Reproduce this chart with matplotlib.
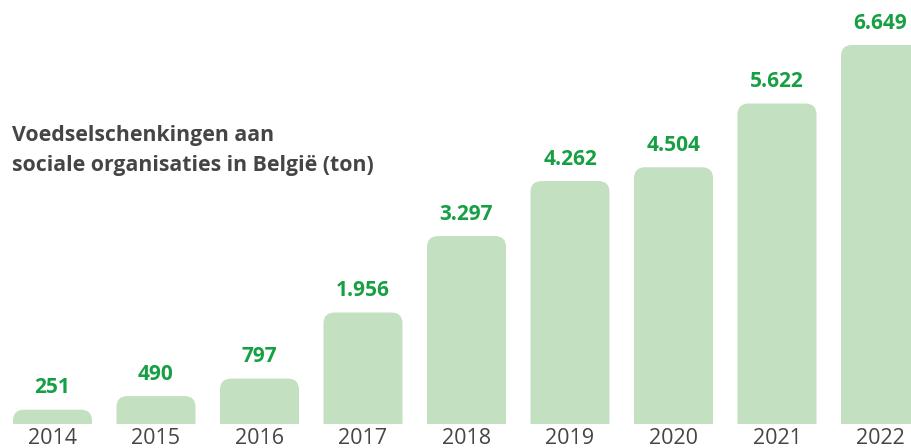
import matplotlib
matplotlib.use("Agg")
import matplotlib.pyplot as plt
from matplotlib.path import Path
from matplotlib.patches import PathPatch

# --- data -------------------------------------------------------------
years = ["2014", "2015", "2016", "2017", "2018", "2019", "2020", "2021", "2022"]
tonnes = [251, 490, 797, 1956, 3297, 4262, 4504, 5622, 6649]
title_lines = ["Voedselschenkingen aan", "sociale organisaties in België (ton)"]

BAR_COLOR = "#c3e0c0"
VALUE_COLOR = "#17a043"
TEXT_COLOR = "#454545"

plt.rcParams['font.family'] = ['Open Sans', 'DejaVu Sans']

W, H = 911, 448
fig = plt.figure(figsize=(W / 100, H / 100), dpi=100)
ax = fig.add_axes([0, 0, 1, 1])
ax.set_axis_off()

# layout in pixels: bar pitch, first center, baseline and tallest bar top
pitch = 103.5
first_center = 52.5
base_px = 24
top_px = H - 45
px_per_unit = (top_px - base_px) / max(tonnes)

ax.set_xlim(-first_center / pitch, (W - first_center) / pitch)
ax.set_ylim(-base_px / px_per_unit, (H - base_px) / px_per_unit)

x = list(range(len(years)))
bars = ax.bar(x, tonnes, width=79 / pitch, color=BAR_COLOR)


def rounded_top(x0, w, h, rx, ry):
    """Path for a bar with only the two top corners rounded."""
    ry = min(ry, h)
    verts = [
        (x0, 0), (x0, h - ry),
        (x0, h), (x0 + rx, h),
        (x0 + w - rx, h),
        (x0 + w, h), (x0 + w, h - ry),
        (x0 + w, 0), (x0, 0),
    ]
    codes = [
        Path.MOVETO, Path.LINETO,
        Path.CURVE3, Path.CURVE3,
        Path.LINETO,
        Path.CURVE3, Path.CURVE3,
        Path.LINETO, Path.CLOSEPOLY,
    ]
    return Path(verts, codes)


radius_px = 11
rx = radius_px / pitch
ry = radius_px / px_per_unit
for rect in bars:
    rect.set_visible(False)
    p = rounded_top(rect.get_x(), rect.get_width(), rect.get_height(), rx, ry)
    ax.add_patch(PathPatch(p, facecolor=BAR_COLOR, edgecolor="none"))

for xi, v, yr in zip(x, tonnes, years):
    label = f"{v:,}".replace(",", ".")
    ax.annotate(label, (xi, v), xytext=(0, 22), textcoords="offset pixels",
                ha="center", va="center", fontsize=15, fontweight="bold",
                color=VALUE_COLOR)
    ax.annotate(yr, (xi, 0), xytext=(0, -14), textcoords="offset pixels",
                ha="center", va="center", fontsize=15.5, color=TEXT_COLOR)

# title, two lines
fig.text(12 / W, 1 - 135 / H, title_lines[0], ha="left", va="center",
         fontsize=15.3, fontweight="bold", color=TEXT_COLOR)
fig.text(12 / W, 1 - 166 / H, title_lines[1], ha="left", va="center",
         fontsize=15.3, fontweight="bold", color=TEXT_COLOR)

fig.savefig("out.png", dpi=100)
